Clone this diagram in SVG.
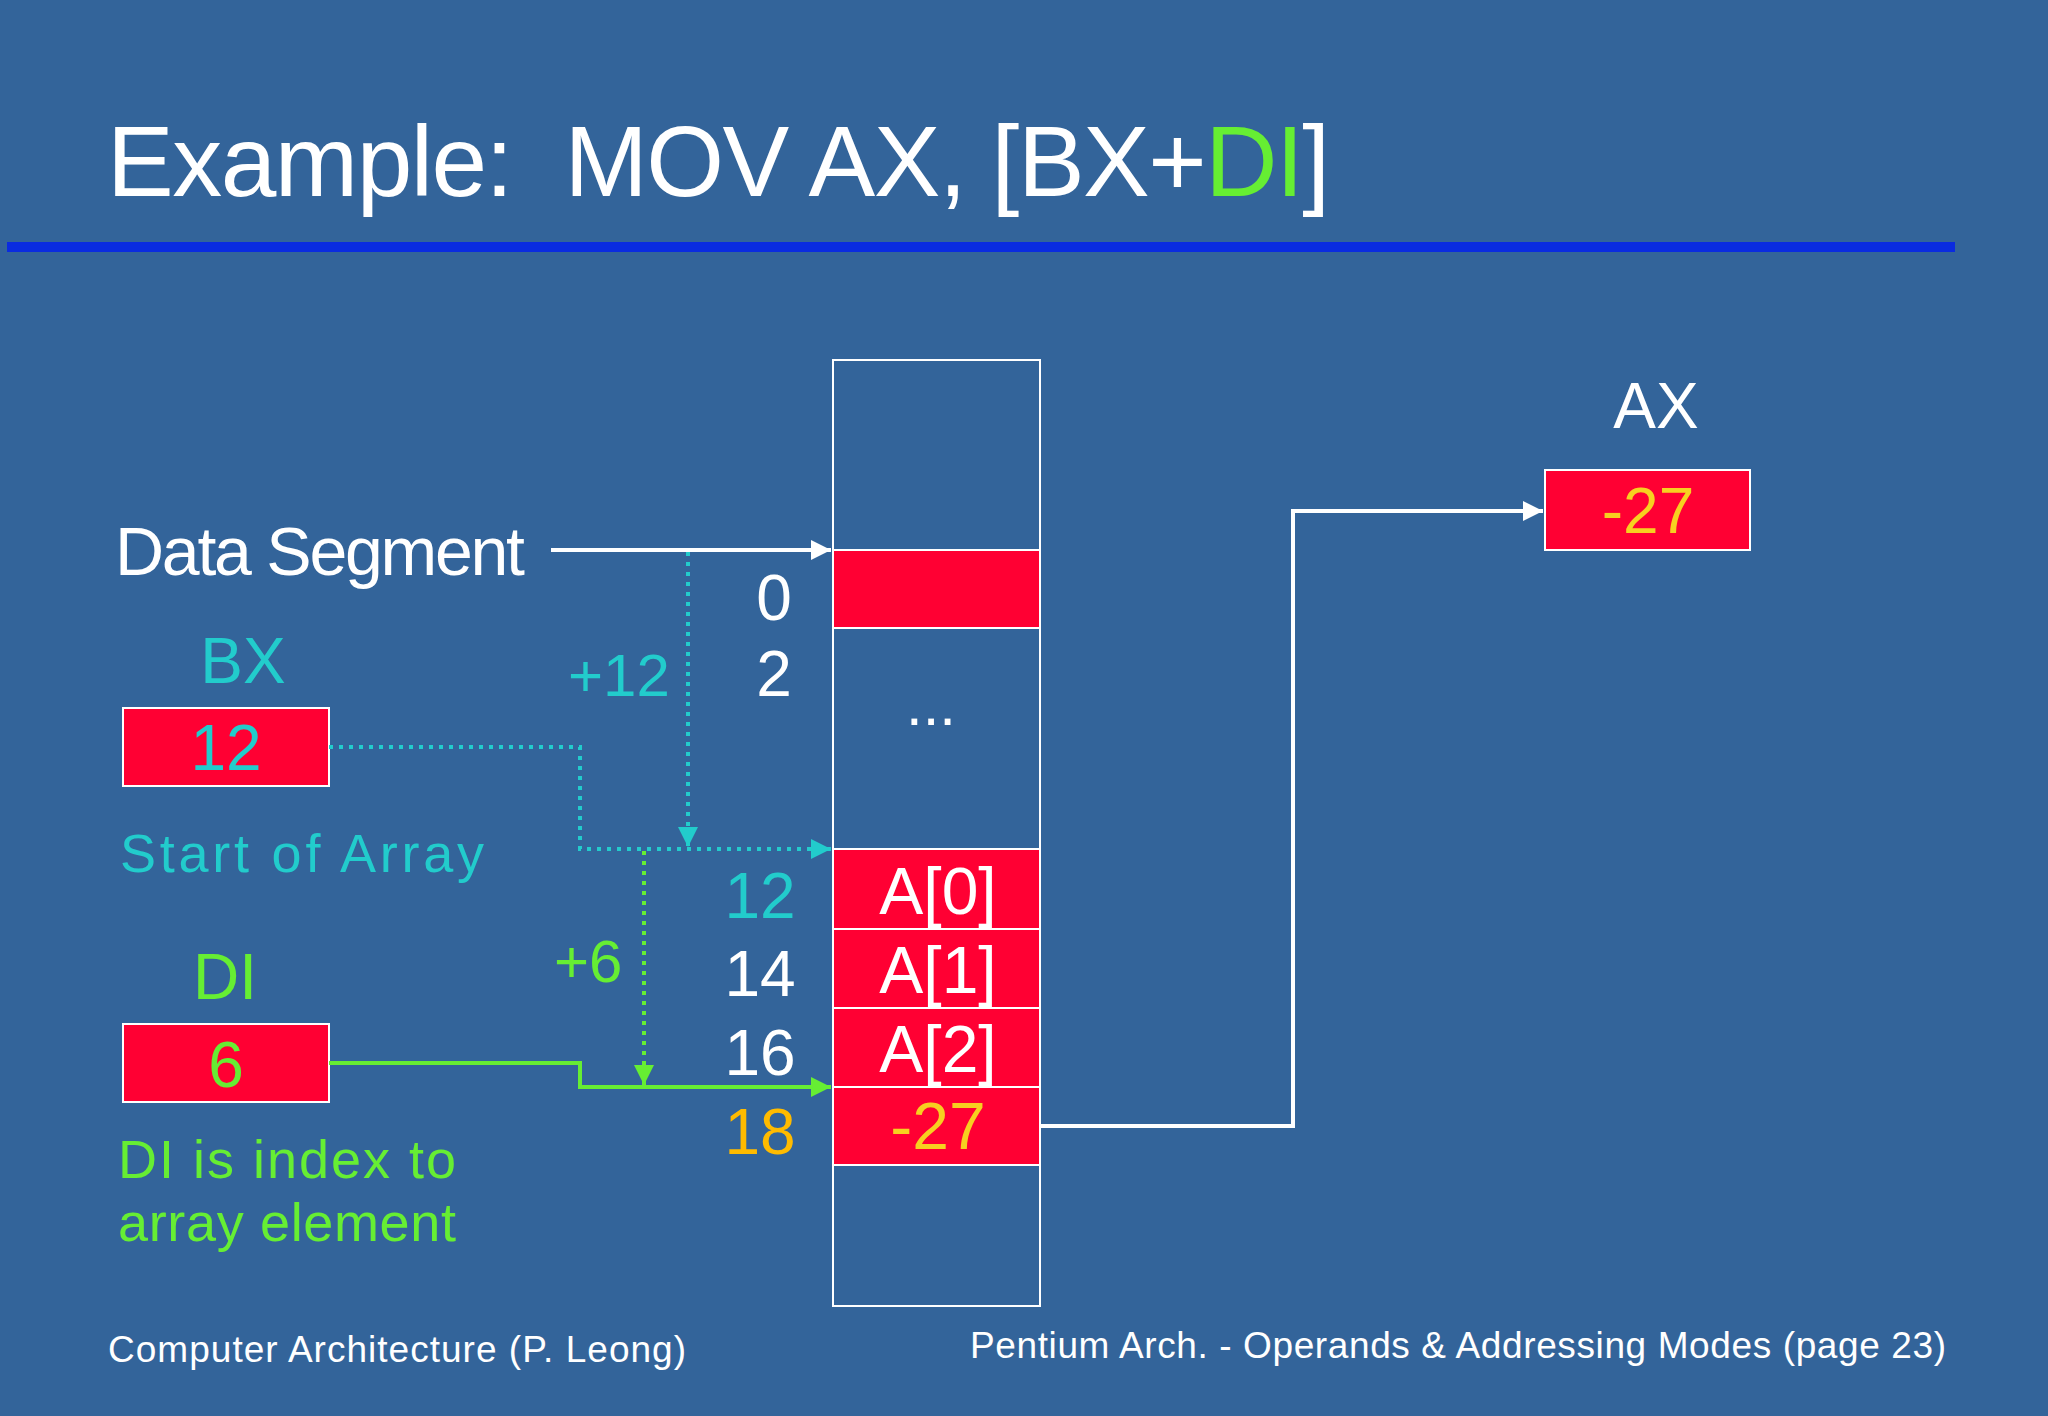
<svg xmlns="http://www.w3.org/2000/svg" width="2048" height="1416" viewBox="0 0 2048 1416">
<style>
text{font-family:"Liberation Sans",Arial,sans-serif;fill:#fff}
.c{fill:#22CCCC}.g{fill:#66EE33}.o{fill:#FFBB00}.y{fill:#F7D020}
.m{text-anchor:middle}
.cell{fill:#FF0033;stroke:#fff;stroke-width:2}
</style>
<defs>
<marker id="aw" viewBox="0 0 10 10" refX="10" refY="5" markerWidth="5" markerHeight="5" orient="auto"><path d="M0,0L10,5L0,10z" fill="#fff"/></marker>
<marker id="ac" viewBox="0 0 10 10" refX="10" refY="5" markerWidth="5" markerHeight="5" orient="auto"><path d="M0,0L10,5L0,10z" fill="#22CCCC"/></marker>
<marker id="ag" viewBox="0 0 10 10" refX="10" refY="5" markerWidth="5" markerHeight="5" orient="auto"><path d="M0,0L10,5L0,10z" fill="#66EE33"/></marker>
</defs>
<rect width="2048" height="1416" fill="#33649A"/>
<text x="107" y="196" font-size="100" textLength="1223">Example:&#160; MOV AX, [BX+<tspan class="g">DI</tspan>]</text>
<rect x="7" y="242" width="1948" height="10" fill="#0A2BE0"/>

<g id="memory">
<rect x="833" y="360" width="207" height="946" fill="none" stroke="#fff" stroke-width="2"/>
<rect class="cell" x="833" y="550" width="207" height="78"/>
<rect class="cell" x="833" y="849" width="207" height="80"/>
<rect class="cell" x="833" y="929" width="207" height="79"/>
<rect class="cell" x="833" y="1008" width="207" height="79"/>
<rect class="cell" x="833" y="1087" width="207" height="78"/>
<text class="m" x="931" y="725" font-size="60">...</text>
<text class="m" x="938" y="914" font-size="66">A[0]</text>
<text class="m" x="938" y="993" font-size="66">A[1]</text>
<text class="m" x="938" y="1072" font-size="66">A[2]</text>
<text class="m y" x="938" y="1149" font-size="66">-27</text>
</g>
<g id="addresses">
<text class="m" x="774" y="620" font-size="64">0</text>
<text class="m" x="774" y="696" font-size="64">2</text>
<text class="m c" x="760" y="918" font-size="64">12</text>
<text class="m" x="760" y="996" font-size="64">14</text>
<text class="m" x="760" y="1075" font-size="64">16</text>
<text class="m o" x="760" y="1154" font-size="64">18</text>
</g>
<g id="dataseg"><text x="115" y="575" font-size="68" textLength="410">Data Segment</text></g>
<g id="bx">
<text class="m c" x="243" y="683" font-size="64">BX</text>
<rect class="cell" x="123" y="708" width="206" height="78"/>
<text class="m c" x="226" y="770" font-size="64">12</text>
<text class="c" x="120" y="872" font-size="54" textLength="364">Start of Array</text>
</g>
<g id="di">
<text class="m g" x="225" y="999" font-size="64">DI</text>
<rect class="cell" x="123" y="1024" width="206" height="78"/>
<text class="m g" x="226" y="1087" font-size="64">6</text>
<text class="g" x="118" y="1178" font-size="54" textLength="338">DI is index to</text>
<text class="g" x="118" y="1241" font-size="54" textLength="338">array element</text>
</g>
<g id="ax">
<text class="m" x="1656" y="428" font-size="64">AX</text>
<rect class="cell" x="1545" y="470" width="205" height="80"/>
<text class="m y" x="1648" y="533" font-size="64">-27</text>
</g>
<text class="c" x="568" y="696" font-size="60">+12</text>
<text class="g" x="554" y="982" font-size="60">+6</text>

<g id="connectors" fill="none" stroke-width="4">
<path d="M551,550H831" stroke="#fff" marker-end="url(#aw)"/>
<path d="M688,552V847" stroke="#22CCCC" stroke-dasharray="4 6" marker-end="url(#ac)"/>
<path d="M329,747H580V849H831" stroke="#22CCCC" stroke-dasharray="4 6" marker-end="url(#ac)"/>
<path d="M644,851V1085" stroke="#66EE33" stroke-dasharray="4 6" marker-end="url(#ag)"/>
<path d="M329,1063H580V1087H831" stroke="#66EE33" marker-end="url(#ag)"/>
<path d="M1040,1126H1293V511H1543" stroke="#fff" marker-end="url(#aw)"/>
</g>
<text x="108" y="1362" font-size="37" textLength="578">Computer Architecture (P. Leong)</text>
<text x="1946" y="1358" font-size="37" text-anchor="end" textLength="976">Pentium Arch. - Operands &amp; Addressing Modes (page 23)</text>
</svg>
